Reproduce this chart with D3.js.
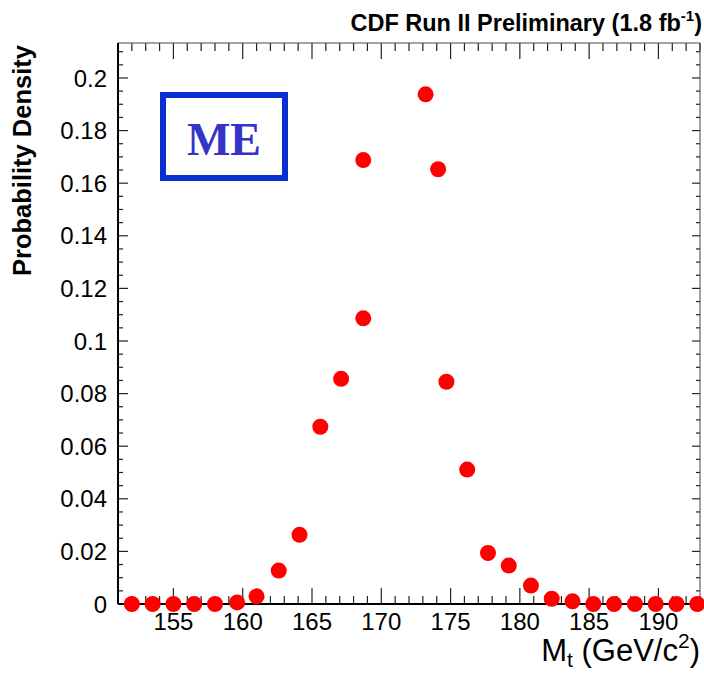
<!DOCTYPE html>
<html>
<head>
<meta charset="utf-8">
<script src="https://cdn.jsdelivr.net/npm/d3@7"></script>
<style>
  html, body { margin: 0; padding: 0; background: #fff; }
  svg { display: block; }
  text { font-family: "Liberation Sans", Arial, Helvetica, sans-serif; fill: #000; }
</style>
</head>
<body>
<div id="chart"></div>
<script>
/* CDF top-mass ME pseudo-experiment density — dots + ROOT-style frame */
var massValues = [152.0, 153.5, 155.0, 156.5, 158.0, 159.6, 161.0, 162.6, 164.1, 165.6, 167.1,
  168.7, 168.7, 173.2, 174.1, 174.7, 176.2, 177.7, 179.2, 180.8, 182.3, 183.8,
  185.3, 186.8, 188.3, 189.8, 191.3, 192.8];
var densityValues = [0, 0, 0, 0, 0, 0.0006, 0.0029, 0.0127, 0.0263, 0.0674, 0.0856,
  0.1688, 0.1086, 0.1938, 0.1653, 0.0845, 0.0511, 0.0194, 0.0146, 0.0070, 0.0020, 0.0010,
  0, 0, 0, 0, 0, 0];
var xTicks = [155, 160, 165, 170, 175, 180, 185, 190];
var yTicks = [0, 0.02, 0.04, 0.06, 0.08, 0.1, 0.12, 0.14, 0.16, 0.18, 0.2];
var xDomain = [151, 193];
var yDomain = [0, 0.2133];

(function () {
  var W = 704, H = 673;
  var L = 118, R = 700, T = 43, B = 604;

  var svg = d3.select('#chart').append('svg').attr('width', W).attr('height', H);
  svg.append('rect').attr('width', W).attr('height', H).attr('fill', '#fff');

  var x = d3.scaleLinear().domain(xDomain).range([L, R]);
  var y = d3.scaleLinear().domain(yDomain).range([B, T]);

  // minor ticks: 1 GeV on x, 0.005 on y
  var xMinor = d3.range(152, 194, 1).filter(function (v) { return v % 5 !== 0; });
  var yMinor = d3.range(0.005, 0.213, 0.005).filter(function (v) { return Math.abs(v / 0.02 - Math.round(v / 0.02)) > 1e-6; });

  var gAx = svg.append('g').attr('class', 'axes');
  function ticks(vals, len, side) {
    gAx.append('g').selectAll('line').data(vals).enter().append('line')
      .attr('stroke', '#222').attr('stroke-width', 1.2)
      .attr('x1', function (d) { return side === 'b' || side === 't' ? x(d) : (side === 'l' ? L : R); })
      .attr('x2', function (d) { return side === 'b' || side === 't' ? x(d) : (side === 'l' ? L + len : R - len); })
      .attr('y1', function (d) { return side === 'l' || side === 'r' ? y(d) : (side === 'b' ? B : T); })
      .attr('y2', function (d) { return side === 'l' || side === 'r' ? y(d) : (side === 'b' ? B - len : T + len); });
  }
  ticks(xTicks, 16, 'b'); ticks(xMinor, 8, 'b');
  ticks(xTicks, 16, 't'); ticks(xMinor, 8, 't');
  ticks(yTicks, 10, 'l'); ticks(yMinor, 5, 'l');
  ticks(yTicks, 8, 'r'); ticks(yMinor, 4, 'r');

  // frame: heavier left/bottom
  gAx.append('line').attr('x1', L).attr('x2', R).attr('y1', T).attr('y2', T).attr('stroke', '#444').attr('stroke-width', 1);
  gAx.append('line').attr('x1', R).attr('x2', R).attr('y1', T).attr('y2', B).attr('stroke', '#444').attr('stroke-width', 1);
  gAx.append('line').attr('x1', L).attr('x2', L).attr('y1', T).attr('y2', B).attr('stroke', '#000').attr('stroke-width', 2);
  gAx.append('line').attr('x1', L).attr('x2', R).attr('y1', B).attr('y2', B).attr('stroke', '#000').attr('stroke-width', 2);

  // tick labels
  gAx.append('g').selectAll('text').data(xTicks).enter().append('text')
    .attr('x', function (d) { return x(d); }).attr('y', 630)
    .attr('text-anchor', 'middle').attr('font-size', 24)
    .text(function (d) { return d; });
  gAx.append('g').selectAll('text').data(yTicks).enter().append('text')
    .attr('x', 107).attr('y', function (d) { return y(d); }).attr('dy', '0.36em')
    .attr('text-anchor', 'end').attr('font-size', 24)
    .text(function (d) { return String(+d.toFixed(2)); });

  // axis titles
  var xt = svg.append('text').attr('x', 700).attr('y', 661).attr('text-anchor', 'end').attr('font-size', 31);
  xt.append('tspan').text('M');
  xt.append('tspan').attr('font-size', 21).attr('dy', 6).text('t');
  xt.append('tspan').attr('dy', -6).text(' (GeV/c');
  xt.append('tspan').attr('font-size', 21).attr('dy', -13).text('2');
  xt.append('tspan').attr('dy', 13).text(')');

  svg.append('text').attr('transform', 'translate(31,45) rotate(-90)')
    .attr('text-anchor', 'end').attr('font-size', 25.5).attr('font-weight', 'bold')
    .text('Probability Density');

  var tt = svg.append('text').attr('x', 702).attr('y', 31).attr('text-anchor', 'end')
    .attr('font-size', 23.5).attr('font-weight', 'bold');
  tt.append('tspan').text('CDF Run II Preliminary (1.8 fb');
  tt.append('tspan').attr('font-size', 15).attr('dy', -10).text('-1');
  tt.append('tspan').attr('dy', 10).text(')');

  // "ME" label box
  svg.append('rect').attr('x', 163).attr('y', 95).attr('width', 122).attr('height', 83)
    .attr('fill', 'none').attr('stroke', '#0a2fd0').attr('stroke-width', 6);
  svg.append('text').attr('x', 224).attr('y', 155).attr('text-anchor', 'middle')
    .style('font-family', '"Liberation Serif", "Times New Roman", serif')
    .attr('font-size', 46).attr('font-weight', 'bold').style('fill', '#3434c8')
    .text('ME');

  // data points
  var pts = massValues.map(function (m, i) { return { m: m, p: densityValues[i] }; });
  svg.append('g').selectAll('circle').data(pts).enter().append('circle')
    .attr('cx', function (d) { return x(d.m); })
    .attr('cy', function (d) { return y(d.p); })
    .attr('r', 8).attr('fill', '#ff0000');
})();
</script>
</body>
</html>
